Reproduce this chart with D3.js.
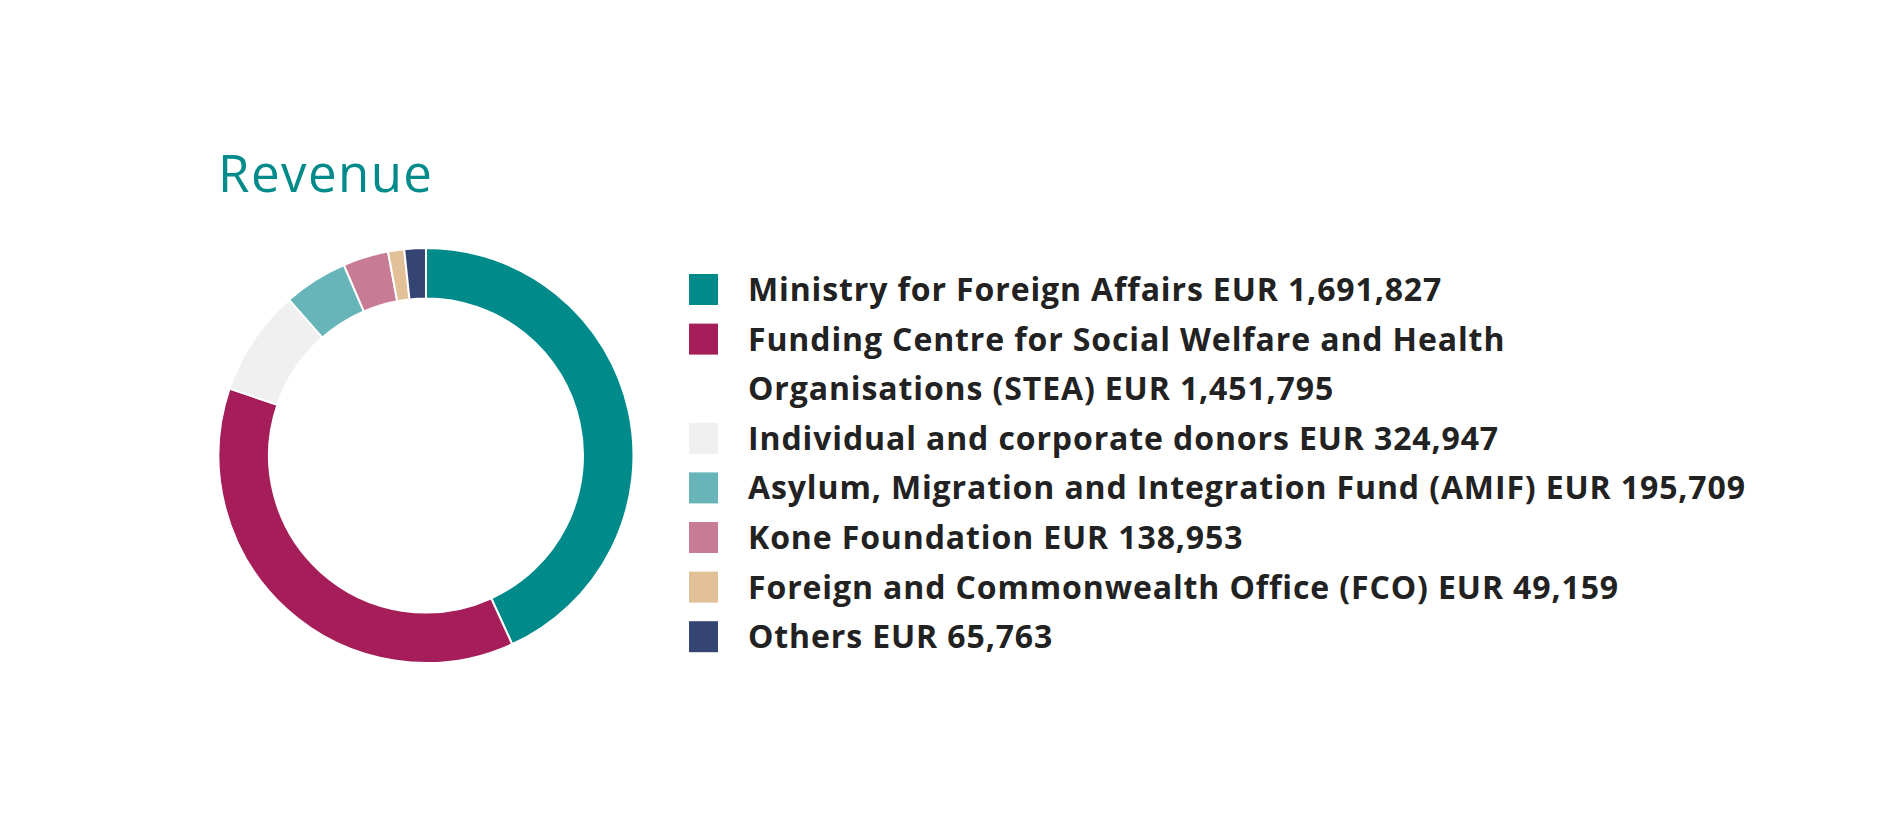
<!DOCTYPE html>
<html>
<head>
<meta charset="utf-8">
<script src="https://cdn.jsdelivr.net/npm/d3@7"></script>
<style>
  html, body { margin: 0; padding: 0; background: #ffffff; }
</style>
</head>
<body>
<div id="chart"></div>
<script>
// revenue sources, in drawing order (clockwise from 12 o'clock)
const sources = [
  "Ministry for Foreign Affairs",
  "Funding Centre for Social Welfare and Health\nOrganisations (STEA)",
  "Individual and corporate donors",
  "Asylum, Migration and Integration Fund (AMIF)",
  "Kone Foundation",
  "Foreign and Commonwealth Office (FCO)",
  "Others"
];
const amounts = [1691827, 1451795, 324947, 195709, 138953, 49159, 65763];
const colours = ["#008a8a", "#a51e59", "#f0f0f0", "#68b5b9", "#c87b94", "#e2c199", "#344573"];
const title = "Revenue";

const W = 1886, H = 837;
const cx = 426, cy = 455.5;
const outerR = 207.5, innerR = 157;
const legX = 689, txtX = 748, firstBase = 301, lineH = 49.6;
const longestW = 997;   // width of the longest legend line in the original
const titleW = 214;
const fmt = d3.format(",");

const svg = d3.select("#chart")
  .append("svg")
    .attr("width", W)
    .attr("height", H)
    .attr("viewBox", `0 0 ${W} ${H}`);

// title
const ttl = svg.append("text")
    .attr("x", 218)
    .attr("y", 192)
    .attr("fill", "#008a8a")
    .style("font-family", "'Open Sans', sans-serif")
    .style("font-size", "51px")
    .text(title);
const tl = ttl.node().getComputedTextLength();
ttl.style("letter-spacing", ((titleW - tl) / (title.length - 1)) + "px");

// donut
const rows = sources.map((s, i) => ({ name: s, value: amounts[i], colour: colours[i] }));

const pie = d3.pie()
  .value(d => d.value)
  .sort(null);

const arc = d3.arc()
  .innerRadius(innerR)
  .outerRadius(outerR);

svg.append("g")
    .attr("transform", `translate(${cx},${cy})`)
  .selectAll("path")
  .data(pie(rows))
  .join("path")
    .attr("d", arc)
    .attr("fill", d => d.data.colour)
    .attr("stroke", "#ffffff")
    .attr("stroke-width", 2);

// legend
const leg = svg.append("g")
    .style("font-family", "'Open Sans', sans-serif")
    .style("font-weight", 700)
    .style("font-size", "32px")
    .attr("fill", "#222222");

let lineNo = 0;
const tspans = [];
rows.forEach(d => {
  const lines = (d.name + " EUR " + fmt(d.value)).split("\n");
  const base = firstBase + lineNo * lineH;
  leg.append("rect")
      .attr("x", legX)
      .attr("y", base - 27)
      .attr("width", 29)
      .attr("height", 31)
      .attr("fill", d.colour);
  const t = leg.append("text")
      .attr("x", txtX)
      .attr("y", base);
  lines.forEach((ln, k) => {
    tspans.push(t.append("tspan")
        .attr("x", txtX)
        .attr("dy", k === 0 ? 0 : lineH)
        .text(ln));
  });
  lineNo += lines.length;
});

// stretch letter spacing so the longest line has the original's width
const longest = tspans.reduce((a, b) =>
  a.node().getComputedTextLength() > b.node().getComputedTextLength() ? a : b);
const ll = longest.node().getComputedTextLength();
leg.style("letter-spacing", ((longestW - ll) / (longest.text().length - 1)) + "px");
</script>
</body>
</html>
